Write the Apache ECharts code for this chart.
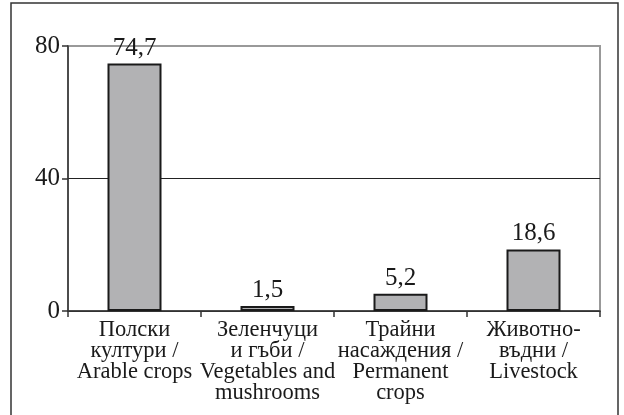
<!DOCTYPE html>
<html>
<head>
<meta charset="utf-8">
<script src="https://cdn.jsdelivr.net/npm/echarts@6/dist/echarts.min.js"></script>
<style>
  html, body { margin: 0; padding: 0; background: #fff; }
  #chart { width: 624px; height: 415px; }
</style>
</head>
<body>
<div id="chart"></div>
<script>
  // categories and values
  const categories = [
    'Полски\nкултури /\nArable crops',
    'Зеленчуци\nи гъби /\nVegetables and\nmushrooms',
    'Трайни\nнасаждения /\nPermanent\ncrops',
    'Животно-\nвъдни /\nLivestock'
  ];
  const values = [74.7, 1.5, 5.2, 18.6];
  const yTicks = [0, 40, 80];

  const font = 'Liberation Serif, Times New Roman, DejaVu Serif, serif';
  const chart = echarts.init(document.getElementById('chart'));

  const option = {
    backgroundColor: '#fff',
    animation: false,
    graphic: [{
      type: 'rect',
      shape: { x: 11, y: 3, width: 607, height: 420 },
      style: { fill: 'none', stroke: '#333', lineWidth: 1.5 },
      z: 0
    }],
    grid: {
      left: 68,
      right: 24,
      top: 46,
      bottom: 104,
      show: true,
      borderColor: '#999',
      borderWidth: 2,
      backgroundColor: 'transparent'
    },
    xAxis: {
      type: 'category',
      data: categories,
      axisLine: { show: true, lineStyle: { color: '#333', width: 1.5 } },
      axisTick: { show: true, length: 6, lineStyle: { color: '#333', width: 1.5 } },
      axisLabel: {
        color: '#1a1a1a',
        fontFamily: font,
        fontSize: 22.5,
        lineHeight: 21,
        margin: 9,
        interval: 0
      },
      splitLine: { show: false }
    },
    yAxis: {
      type: 'value',
      min: yTicks[0],
      max: yTicks[yTicks.length - 1],
      interval: 40,
      axisLine: { show: true, lineStyle: { color: '#333', width: 1.5 } },
      axisTick: { show: true, length: 6, lineStyle: { color: '#333', width: 1.5 } },
      axisLabel: {
        color: '#1a1a1a',
        fontFamily: font,
        fontSize: 25,
        margin: 8
      },
      splitLine: { show: true, lineStyle: { color: ['#333', '#222', '#999'], width: 1 } }
    },
    series: [{
      type: 'bar',
      data: values,
      barWidth: 54,
      itemStyle: {
        color: '#b2b2b4',
        borderColor: '#1a1a1a',
        borderWidth: 2
      },
      label: {
        show: true,
        position: 'top',
        distance: 3,
        color: '#1a1a1a',
        fontFamily: font,
        fontSize: 25,
        formatter: p => String(p.value).replace('.', ',')
      }
    }]
  };
  chart.setOption(option);
</script>
</body>
</html>
